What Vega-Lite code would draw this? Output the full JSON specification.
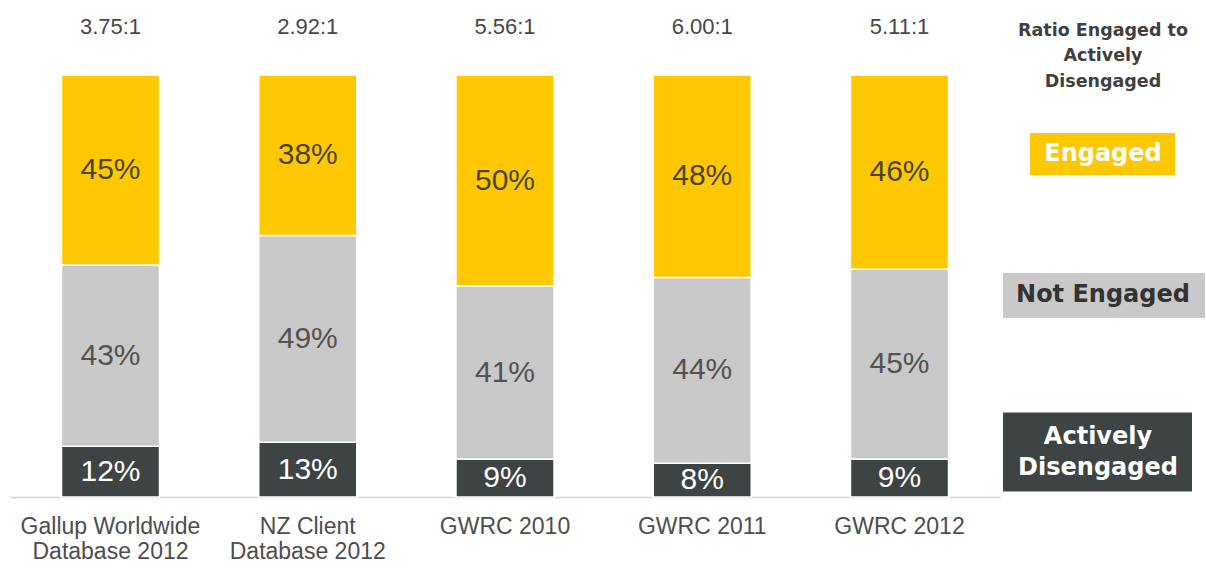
{
  "$schema": "https://vega.github.io/schema/vega-lite/v6.json",
  "background": "white",
  "padding": {"left": 10, "top": 0, "right": 0, "bottom": 0},
  "spacing": 0,
  "config": {"view": {"stroke": null}, "font": "Liberation Sans"},
  "datasets": {
    "engagement": [
      {"group": "Gallup Worldwide Database 2012", "status": "Actively Disengaged", "rank": 1, "share": 0.12},
      {"group": "Gallup Worldwide Database 2012", "status": "Not Engaged", "rank": 2, "share": 0.43},
      {"group": "Gallup Worldwide Database 2012", "status": "Engaged", "rank": 3, "share": 0.45},
      {"group": "NZ Client Database 2012", "status": "Actively Disengaged", "rank": 1, "share": 0.13},
      {"group": "NZ Client Database 2012", "status": "Not Engaged", "rank": 2, "share": 0.49},
      {"group": "NZ Client Database 2012", "status": "Engaged", "rank": 3, "share": 0.38},
      {"group": "GWRC 2010", "status": "Actively Disengaged", "rank": 1, "share": 0.09},
      {"group": "GWRC 2010", "status": "Not Engaged", "rank": 2, "share": 0.41},
      {"group": "GWRC 2010", "status": "Engaged", "rank": 3, "share": 0.50},
      {"group": "GWRC 2011", "status": "Actively Disengaged", "rank": 1, "share": 0.08},
      {"group": "GWRC 2011", "status": "Not Engaged", "rank": 2, "share": 0.44},
      {"group": "GWRC 2011", "status": "Engaged", "rank": 3, "share": 0.48},
      {"group": "GWRC 2012", "status": "Actively Disengaged", "rank": 1, "share": 0.09},
      {"group": "GWRC 2012", "status": "Not Engaged", "rank": 2, "share": 0.45},
      {"group": "GWRC 2012", "status": "Engaged", "rank": 3, "share": 0.46}
    ],
    "ratios": [
      {"group": "Gallup Worldwide Database 2012", "ratio": "3.75:1"},
      {"group": "NZ Client Database 2012", "ratio": "2.92:1"},
      {"group": "GWRC 2010", "ratio": "5.56:1"},
      {"group": "GWRC 2011", "ratio": "6.00:1"},
      {"group": "GWRC 2012", "ratio": "5.11:1"}
    ],
    "legend": [
      {"status": "Engaged", "label": "Engaged"},
      {"status": "Not Engaged", "label": "Not Engaged"},
      {"status": "Actively Disengaged", "label": "Actively\nDisengaged"}
    ]
  },
  "hconcat": [
    {
      "width": 990,
      "height": 497,
      "layer": [
        {
          "data": {"name": "engagement"},
          "mark": {"type": "bar", "stroke": "white", "strokeWidth": 1.5},
          "encoding": {
            "x": {
              "field": "group", "type": "nominal",
              "sort": ["Gallup Worldwide Database 2012", "NZ Client Database 2012", "GWRC 2010", "GWRC 2011", "GWRC 2012"],
              "scale": {"paddingInner": 0.503, "paddingOuter": 0.261},
              "axis": {
                "title": null,
                "labelAngle": 0,
                "ticks": false,
                "domainColor": "#d6d6d6",
                "domainWidth": 1.5,
                "labelFontSize": 23,
                "labelColor": "#4d4d4d",
                "labelPadding": 18,
                "labelLineHeight": 25,
                "labelBaseline": "top",
                "labelLimit": 400,
                "labelExpr": "datum.value == 'Gallup Worldwide Database 2012' ? ['Gallup Worldwide', 'Database 2012'] : datum.value == 'NZ Client Database 2012' ? ['NZ Client', 'Database 2012'] : datum.value"
              }
            },
            "y": {"field": "share", "type": "quantitative", "stack": "zero", "scale": {"domain": [0, 1.178], "nice": false}, "axis": null},
            "color": {
              "field": "status", "type": "nominal",
              "scale": {"domain": ["Engaged", "Not Engaged", "Actively Disengaged"], "range": ["#FFC800", "#C9C9C9", "#3E4344"]},
              "legend": null
            },
            "order": {"field": "rank", "type": "quantitative"}
          }
        },
        {
          "data": {"name": "engagement"},
          "mark": {"type": "text", "fontSize": 30, "baseline": "middle"},
          "encoding": {
            "x": {"field": "group", "type": "nominal", "sort": ["Gallup Worldwide Database 2012", "NZ Client Database 2012", "GWRC 2010", "GWRC 2011", "GWRC 2012"]},
            "y": {"field": "share", "type": "quantitative", "stack": "zero", "bandPosition": 0.5},
            "text": {"field": "share", "type": "quantitative", "format": ".0%"},
            "color": {
              "condition": [
                {"test": "datum.status === 'Actively Disengaged'", "value": "#ffffff"},
                {"test": "datum.status === 'Engaged'", "value": "#4a4529"}
              ],
              "value": "#525252"
            },
            "order": {"field": "rank", "type": "quantitative"}
          }
        },
        {
          "data": {"name": "ratios"},
          "mark": {"type": "text", "fontSize": 22, "color": "#474747", "baseline": "middle"},
          "encoding": {
            "x": {"field": "group", "type": "nominal", "sort": ["Gallup Worldwide Database 2012", "NZ Client Database 2012", "GWRC 2010", "GWRC 2011", "GWRC 2012"]},
            "y": {"datum": 1.115},
            "text": {"field": "ratio", "type": "nominal"}
          }
        }
      ]
    },
    {
      "width": 206,
      "height": 497,
      "data": {"name": "legend"},
      "title": {
        "text": ["Ratio Engaged to", "Actively", "Disengaged"],
        "font": "DejaVu Sans",
        "fontSize": 17.5,
        "fontWeight": "bold",
        "color": "#3f3f3f",
        "lineHeight": 25.5,
        "anchor": "middle",
        "frame": "group",
        "offset": -90
      },
      "layer": [
        {
          "mark": {"type": "point", "filled": true, "size": 10000, "opacity": 1, "strokeWidth": 0},
          "encoding": {
            "y": {
              "field": "status", "type": "nominal",
              "scale": {"type": "point", "padding": 0, "domain": ["Engaged", "Not Engaged", "Actively Disengaged"], "range": [154, 452]},
              "axis": null
            },
            "shape": {
              "field": "status", "type": "nominal",
              "scale": {
                "domain": ["Engaged", "Not Engaged", "Actively Disengaged"],
                "range": ["M-1.46,-0.42H1.44V0.42H-1.46Z", "M-2,-0.6H2.04V0.3H-2Z", "M-2,-0.79H1.78V0.79H-2Z"]
              },
              "legend": null
            },
            "color": {
              "field": "status", "type": "nominal",
              "scale": {"domain": ["Engaged", "Not Engaged", "Actively Disengaged"], "range": ["#FCC600", "#D6D6D6", "#3E4344"]},
              "legend": null
            }
          }
        },
        {
          "transform": [{"filter": "datum.status === 'Engaged'"}],
          "mark": {"type": "text", "font": "DejaVu Sans", "fontWeight": "bold", "fontSize": 24, "color": "#ffffff", "baseline": "middle"},
          "encoding": {
            "y": {"field": "status", "type": "nominal"},
            "text": {"field": "label", "type": "nominal"}
          }
        },
        {
          "transform": [{"filter": "datum.status === 'Not Engaged'"}],
          "mark": {"type": "text", "font": "DejaVu Sans", "fontWeight": "bold", "fontSize": 24, "color": "#333333", "baseline": "middle", "dy": -8},
          "encoding": {
            "y": {"field": "status", "type": "nominal"},
            "text": {"field": "label", "type": "nominal"}
          }
        },
        {
          "transform": [{"filter": "datum.status === 'Actively Disengaged'"}],
          "mark": {"type": "text", "font": "DejaVu Sans", "fontWeight": "bold", "fontSize": 24, "color": "#ffffff", "baseline": "middle", "lineBreak": "\n", "lineHeight": 31, "dx": -5, "dy": -15},
          "encoding": {
            "y": {"field": "status", "type": "nominal"},
            "text": {"field": "label", "type": "nominal"}
          }
        }
      ]
    }
  ]
}
